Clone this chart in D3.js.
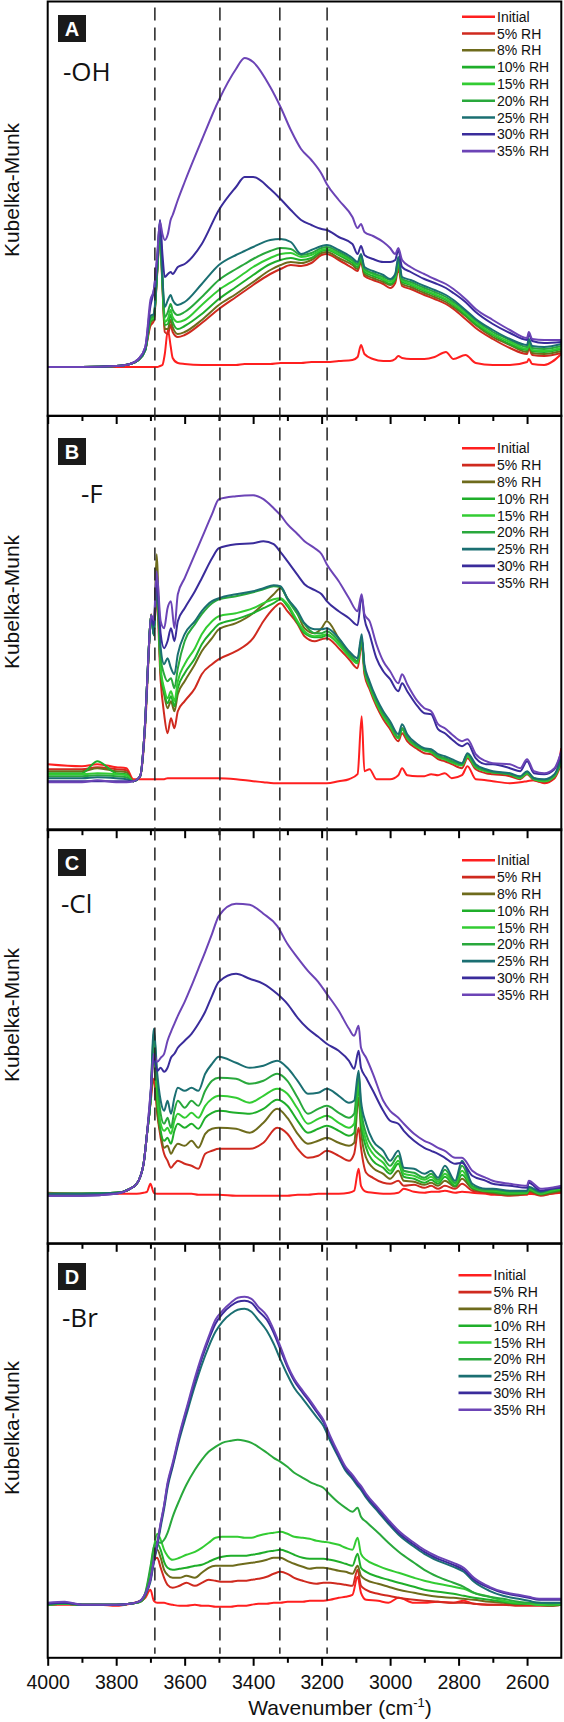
<!DOCTYPE html>
<html><head><meta charset="utf-8">
<script src="https://cdn.jsdelivr.net/npm/d3@7/dist/d3.min.js"></script>
<style>body{margin:0;background:#fff}svg{display:block}</style>
</head><body>
<svg id="chart" width="564" height="1722"></svg>
<script>
// ---------- data ----------
const seriesNames = ["Initial","5% RH","8% RH","10% RH","15% RH","20% RH","25% RH","30% RH","35% RH"];
const seriesColors = ["#ff1f1f","#cf2a1f","#6e6b1c","#1fae2a","#33cc33","#29a83c","#1b6f72","#3a2c9b","#6c44b6"];
const panelLetters = ["A","B","C","D"];
const panelGroups = ["-OH","-F","-Cl","-Br"];
const xMajorTicks = [4000,3800,3600,3400,3200,3000,2800,2600];
const xMinorTicks = [3900,3700,3500,3300,3100,2900,2700];
const dashedWavenumbers = [3687,3497,3322,3184];

// Panel A (-OH): wavenumber grid and Kubelka-Munk values (arbitrary units)
const A_wn = [4000,3900,3800,3760,3735,3715,3700,3690,3680,3672,3665,3658,3649,3641,3635,3620,3600,3550,3500,3450,3425,3400,3350,3320,3290,3260,3230,3200,3185,3150,3110,3095,3085,3075,3050,3020,3000,2985,2976,2965,2940,2900,2870,2837,2815,2780,2750,2700,2650,2600,2595,2585,2550,2500];
const A_init = [49,49,49,49,49,49,49,49,49,50,51,62,86,70,58,53,52,51,51,51,52,52,52,53,53,53,54,54,54,55,56,59,71,62,57,55,55,57,60,58,57,57,59,64,57,61,53,51,51,54,57,52,51,62];
const A_rh5 = [49,49,50,52,56,66,90,95,143,182,130,84,82,91,84,79,81,93,107,119,125,131,142,147,151,150,153,161,162,156,148,145,154,140,136,132,128,133,147,130,127,121,117,112,107,97,88,77,68,62,68,61,60,63];
const A_rh8 = [49,49,50,52,56,66,93,97,145,184,132,87,87,96,89,82,84,96,111,122,128,134,146,151,154,153,156,163,164,158,151,147,156,142,138,134,131,136,151,132,129,123,119,114,109,100,91,79,71,64,70,63,62,65];
const A_rh10 = [49,49,50,52,56,66,95,98,146,186,134,91,92,101,94,87,90,102,117,129,135,141,152,156,158,156,158,165,166,161,153,149,157,144,140,136,132,137,152,134,131,125,121,116,111,101,92,81,72,66,72,65,64,67];
const A_rh15 = [49,49,50,52,56,66,96,99,147,188,136,94,97,106,99,94,96,111,126,137,143,149,158,162,163,159,161,166,167,162,155,151,159,146,142,137,134,139,154,136,132,126,122,117,112,103,94,82,74,67,73,66,65,68];
const A_rh20 = [49,49,50,52,56,66,98,100,148,190,138,99,104,112,106,101,104,119,136,147,152,157,165,168,167,161,163,168,169,164,156,152,161,147,143,139,136,141,156,137,134,128,124,119,114,105,96,84,76,69,75,68,67,70];
const A_rh25 = [49,49,50,52,56,66,100,102,150,195,140,109,116,121,116,111,114,132,151,161,165,169,176,177,174,162,166,170,171,166,158,154,162,149,145,141,137,142,159,139,136,130,126,121,116,106,97,86,77,71,77,70,69,72];
const A_rh30 = [49,49,50,52,57,69,110,126,159,196,162,139,142,144,142,149,152,172,206,229,239,239,227,217,206,196,191,187,186,179,172,162,170,161,157,154,154,156,166,149,144,137,133,128,123,114,104,92,83,76,82,75,73,74];
const A_rh35 = [49,49,50,52,57,69,116,126,162,194,182,176,182,196,201,216,234,276,316,347,358,354,329,309,286,267,256,242,232,216,199,188,192,184,180,174,168,162,168,156,149,142,137,132,127,117,107,96,86,78,84,77,76,76];

// Panel B (-F)
const B_wn = [4000,3900,3855,3800,3770,3750,3730,3715,3705,3698,3690,3682,3670,3660,3650,3640,3630,3620,3600,3570,3550,3520,3500,3450,3400,3370,3340,3320,3300,3270,3250,3220,3200,3185,3150,3120,3095,3083,3075,3060,3040,3020,3000,2976,2965,2950,2920,2900,2880,2860,2840,2820,2790,2774,2750,2720,2700,2650,2620,2600,2580,2550,2520,2500];
const B_init = [66,64,66,63,62,51,51,51,51,51,51,51,51,51,52,52,52,52,52,52,52,52,52,51,49,48,47,47,47,47,47,47,47,47,49,51,56,114,59,61,51,51,51,55,62,55,54,54,56,55,57,52,55,64,51,50,49,47,48,49,50,47,52,82];
const B_rh5 = [61,61,63,61,60,49,54,105,175,216,200,232,149,116,97,112,102,119,129,142,156,166,171,179,192,209,222,227,219,206,194,189,191,192,182,171,162,186,156,141,124,111,101,89,97,89,81,77,76,71,69,66,62,72,61,57,56,54,51,56,50,48,52,67];
const B_rh8 = [59,59,62,59,58,49,54,110,180,215,195,276,156,136,122,129,119,136,149,166,179,192,201,207,217,226,236,242,232,216,202,197,202,209,192,177,169,192,162,146,129,116,106,93,102,93,84,81,79,74,72,69,66,76,64,60,58,56,53,58,52,50,55,71];
const B_rh10 = [57,57,69,57,56,49,54,110,180,215,195,252,159,139,127,134,124,142,157,172,186,199,206,211,217,222,227,231,224,207,197,193,193,195,186,174,167,191,161,144,127,114,104,92,101,92,83,80,78,73,71,68,65,74,63,59,58,56,52,57,51,49,54,69];
const B_rh15 = [56,56,57,56,55,49,54,110,180,215,195,249,162,142,132,139,129,149,166,182,196,209,214,217,222,227,231,232,226,209,199,194,195,196,186,174,167,191,161,144,127,114,104,92,101,92,83,80,78,73,71,68,65,74,63,59,58,56,52,57,51,49,54,69];
const B_rh20 = [54,54,55,54,53,49,54,110,180,215,195,256,172,156,149,152,142,162,189,206,216,227,231,234,238,241,244,243,231,216,206,197,197,199,189,176,169,192,162,146,129,116,106,93,102,93,84,81,79,74,72,69,66,76,64,60,58,56,53,58,52,50,55,71];
const B_rh25 = [52,52,53,52,51,49,54,110,180,215,195,252,182,166,172,162,156,176,196,209,219,229,232,236,239,242,245,244,232,219,207,201,201,202,192,179,172,196,166,149,132,119,109,96,106,96,86,82,81,76,74,71,67,77,66,61,59,57,54,59,52,51,56,72];
const B_rh30 = [49,49,49,49,49,49,54,110,180,213,205,249,196,182,189,202,189,209,222,239,252,272,282,286,287,289,286,278,269,255,246,240,236,229,219,212,205,234,212,196,172,159,151,139,147,139,124,117,116,101,97,91,84,87,72,66,66,62,59,69,57,56,61,77];
const B_rh35 = [48,48,50,48,48,49,54,110,180,215,210,259,209,202,222,229,202,236,252,276,292,316,331,334,335,331,322,315,306,296,289,282,276,266,249,232,219,236,216,209,186,169,159,147,156,146,129,122,119,106,102,96,89,91,76,69,67,66,62,71,59,57,62,79];

// Panel C (-Cl)
const C_wn = [4000,3900,3800,3760,3740,3720,3710,3700,3690,3680,3670,3660,3650,3640,3630,3620,3600,3580,3560,3540,3520,3500,3450,3410,3370,3330,3300,3270,3240,3210,3185,3150,3120,3105,3092,3085,3070,3050,3020,3000,2976,2960,2930,2900,2880,2860,2840,2810,2790,2760,2720,2700,2650,2600,2595,2560,2530,2500];
const C_init = [51,50,50,50,50,51,52,60,51,50,50,50,50,50,50,50,50,50,49,49,49,49,48,48,48,48,48,49,49,50,50,50,51,53,75,58,52,51,50,50,51,55,52,51,52,52,53,51,52,51,50,49,49,49,50,49,50,51];
const C_rh5 = [50,50,51,55,60,80,110,140,165,130,106,90,83,76,80,83,80,78,75,90,93,95,95,95,101,116,110,95,86,88,93,88,83,90,116,96,71,66,61,60,63,58,59,56,58,55,58,55,60,53,51,50,48,50,52,48,50,52];
const C_rh8 = [50,50,51,55,60,80,110,141,190,133,110,96,98,90,96,100,98,103,96,110,115,116,115,111,121,135,126,110,100,103,106,101,98,101,146,113,86,76,70,65,73,63,62,59,61,58,63,57,65,55,52,51,49,50,53,49,51,53];
const C_rh10 = [50,50,51,55,60,80,110,142,200,143,113,103,106,100,113,120,116,120,115,126,131,133,131,130,135,144,138,123,111,115,118,113,108,111,156,123,96,83,76,70,80,67,65,61,64,60,67,58,69,56,53,52,50,51,54,50,52,54];
const C_rh15 = [50,50,51,55,60,80,110,143,205,150,120,113,116,110,123,130,126,131,126,138,145,148,146,141,148,155,150,135,120,125,128,121,116,120,163,130,103,90,81,73,83,70,68,64,67,62,70,60,73,57,53,53,51,51,55,50,53,55];
const C_rh20 = [50,50,51,55,60,80,110,143,212,163,130,120,126,116,133,143,136,143,138,153,163,166,165,160,163,170,163,146,130,135,138,131,126,130,170,136,110,96,86,78,88,73,71,66,70,64,74,61,78,58,54,54,52,52,56,51,54,56];
const C_rh25 = [50,50,51,55,60,80,110,143,215,170,143,133,143,130,146,156,153,156,153,170,180,187,181,176,178,183,176,163,150,151,155,148,141,143,173,143,120,103,93,83,93,76,75,70,73,66,78,63,83,60,55,55,53,53,57,52,55,57];
const C_rh30 = [48,48,50,55,60,80,110,148,186,173,176,172,176,186,190,196,203,210,220,232,248,262,270,265,260,250,240,226,215,207,200,193,183,175,193,176,166,153,133,123,120,113,103,96,93,90,86,80,81,68,63,60,58,56,61,53,55,56];
const C_rh35 = [48,48,50,55,60,80,110,150,190,182,186,190,203,212,220,228,242,258,275,292,310,328,340,339,330,318,300,286,273,262,250,233,215,208,218,196,186,170,143,133,126,120,110,103,100,96,93,86,86,73,66,63,60,58,63,55,56,58];

// Panel D (-Br)
const D_wn = [4000,3950,3900,3850,3800,3760,3730,3715,3700,3690,3680,3670,3660,3650,3635,3615,3595,3570,3550,3530,3510,3490,3465,3445,3425,3405,3385,3360,3340,3320,3300,3280,3255,3235,3215,3195,3175,3150,3130,3110,3095,3085,3070,3035,3005,2975,2930,2900,2860,2815,2785,2755,2710,2670,2625,2595,2565,2530,2500];
const D_init = [53,53,53,53,52,54,57,60,68,57,55,55,55,54,53,52,52,53,52,52,51,51,51,52,52,53,54,54,55,55,56,56,56,57,57,57,58,60,61,63,81,65,58,57,55,60,55,55,56,55,57,54,53,53,53,53,53,53,54];
const D_rh5 = [53,54,53,53,53,54,56,62,80,98,100,90,80,73,70,72,75,72,75,78,77,76,76,77,77,78,79,81,84,86,84,80,77,75,74,75,75,74,73,72,88,72,68,64,62,60,58,57,56,55,55,54,53,53,52,52,52,52,53];
const D_rh8 = [53,54,53,53,53,54,56,62,82,100,108,100,88,83,80,80,82,80,85,90,92,92,92,93,94,95,96,98,100,100,97,94,91,89,90,90,89,87,86,84,92,82,78,74,71,68,65,63,61,60,59,58,56,55,54,54,53,52,53];
const D_rh10 = [53,54,53,53,53,54,56,63,86,105,114,108,96,90,88,89,90,92,93,96,99,101,102,102,102,103,104,106,107,108,106,103,100,99,99,99,98,96,94,92,104,90,86,81,78,75,71,68,66,64,62,60,58,56,54,54,53,53,53];
const D_rh15 = [53,54,53,53,53,54,56,64,88,110,124,118,108,102,98,100,103,106,110,115,120,121,121,121,120,120,122,124,125,126,124,121,120,119,117,116,115,113,110,108,120,104,98,92,88,85,80,77,74,71,69,65,61,57,55,54,53,53,54];
const D_rh20 = [53,54,53,53,53,54,56,65,91,111,116,115,118,125,141,158,173,188,198,206,211,215,217,218,217,215,211,205,200,196,191,185,180,176,173,170,163,155,150,146,150,141,136,125,115,106,95,88,81,75,71,65,61,59,56,55,55,54,55];
const D_rh25 = [54,55,53,53,53,54,57,63,76,95,112,131,149,170,191,219,243,272,293,311,326,336,344,348,349,346,338,327,314,298,283,270,259,250,241,232,217,200,187,179,172,168,160,146,134,123,111,104,97,91,86,76,67,62,59,57,55,55,55];
const D_rh30 = [54,55,53,53,53,54,57,64,78,97,114,134,152,173,193,222,247,277,299,318,334,344,352,356,357,355,347,338,325,308,291,277,265,256,246,236,220,202,189,181,174,170,162,148,136,125,113,106,99,93,88,78,70,65,62,60,58,58,58];
const D_rh35 = [55,56,53,53,53,54,57,64,78,98,115,135,153,175,195,224,249,280,302,321,338,347,355,360,361,359,351,342,328,311,293,279,267,258,248,238,222,204,191,183,176,172,164,150,138,127,115,108,101,95,90,80,71,66,63,61,59,59,59];

// ---------- assemble ----------
const panels = [
  {wn: A_wn, series: [A_init,A_rh5,A_rh8,A_rh10,A_rh15,A_rh20,A_rh25,A_rh30,A_rh35]},
  {wn: B_wn, series: [B_init,B_rh5,B_rh8,B_rh10,B_rh15,B_rh20,B_rh25,B_rh30,B_rh35]},
  {wn: C_wn, series: [C_init,C_rh5,C_rh8,C_rh10,C_rh15,C_rh20,C_rh25,C_rh30,C_rh35]},
  {wn: D_wn, series: [D_init,D_rh5,D_rh8,D_rh10,D_rh15,D_rh20,D_rh25,D_rh30,D_rh35]}
];

// ---------- layout ----------
const plotLeft = 47.7, plotRight = 561.3;
const panelTops = [1.5, 415.7, 829.3, 1243.3];
const panelH = 414.5;
const plotBottom = panelTops[3] + panelH;
const legendTop = [16.7, 448.3, 860.3, 1275.3];
const legendX = [462, 462, 462, 458.5];
const legendStep = 16.8;
const boxTop = [15, 438, 849, 1263];
const groupPos = [[63,81],[81,503],[61,913],[62,1327]];
const ylabelCenter = [190, 602, 1015, 1428];

const svg = d3.select("#chart");
const x = d3.scaleLinear().domain([4000, 2500]).range([plotLeft, plotRight]);
const font = "'Liberation Sans', Arial, Helvetica, sans-serif";

panels.forEach((p, pi) => {
  const top = panelTops[pi];
  const y = d3.scaleLinear().domain([0, 414.5]).range([top + panelH, top]);
  const g = svg.append("g");
  const clipId = "clip" + pi;
  svg.append("clipPath").attr("id", clipId).append("rect")
    .attr("x", plotLeft).attr("y", top).attr("width", plotRight - plotLeft).attr("height", panelH);

  const line = d3.line()
    .x((d, i) => x(p.wn[i]))
    .y(d => y(d))
    .curve(d3.curveMonotoneX);

  const lines = g.append("g").attr("clip-path", `url(#${clipId})`);
  p.series.forEach((s, si) => {
    if (s.length !== p.wn.length) console.warn("length mismatch", pi, si, s.length, p.wn.length);
    lines.append("path").datum(s)
      .attr("d", line)
      .attr("fill", "none")
      .attr("stroke", seriesColors[si])
      .attr("stroke-width", 2)
      .attr("stroke-linejoin", "round");
  });

  // legend
  const lg = g.append("g");
  seriesNames.forEach((name, si) => {
    const yy = legendTop[pi] + si * legendStep;
    lg.append("line").attr("x1", legendX[pi]).attr("x2", legendX[pi] + 33)
      .attr("y1", yy).attr("y2", yy)
      .attr("stroke", seriesColors[si]).attr("stroke-width", 2.6);
    lg.append("text").attr("x", legendX[pi] + 35).attr("y", yy).attr("dy", "0.36em")
      .attr("font-family", font).attr("font-size", 14).attr("fill", "#111")
      .text(name);
  });

  // panel letter box
  g.append("rect").attr("x", 58).attr("y", boxTop[pi]).attr("width", 28).attr("height", 27)
    .attr("fill", "#1a1a1a");
  g.append("text").attr("x", 72).attr("y", boxTop[pi] + 13.5).attr("dy", "0.36em")
    .attr("text-anchor", "middle").attr("font-family", font).attr("font-weight", "bold")
    .attr("font-size", 20).attr("fill", "#fff").text(panelLetters[pi]);

  // substituent label
  g.append("text").attr("x", groupPos[pi][0]).attr("y", groupPos[pi][1])
    .attr("font-family", "'Open Sans', 'Liberation Sans', sans-serif").attr("font-size", 26)
    .attr("fill", "#111").text(panelGroups[pi]);

  // y label
  g.append("text")
    .attr("transform", `translate(18.5,${ylabelCenter[pi]}) rotate(-90)`)
    .attr("text-anchor", "middle").attr("font-family", font).attr("font-size", 21)
    .attr("fill", "#111").text("Kubelka-Munk");

  // bottom axis ticks (outward)
  const bottom = top + panelH;
  const major = d3.axisBottom(x).tickValues(xMajorTicks).tickSize(8).tickSizeOuter(0).tickPadding(9)
    .tickFormat(pi === 3 ? d3.format("d") : () => "");
  const minor = d3.axisBottom(x).tickValues(xMinorTicks).tickSize(5).tickSizeOuter(0).tickFormat(() => "");
  [major, minor].forEach(ax => {
    const ag = g.append("g").attr("transform", `translate(0,${bottom})`).call(ax);
    ag.select(".domain").remove();
    ag.selectAll("line").attr("stroke", "#000").attr("stroke-width", 2);
    ag.selectAll("text").attr("font-family", font).attr("font-size", 19.5).attr("fill", "#111");
  });

  // frame
  g.append("rect").attr("x", plotLeft).attr("y", top).attr("width", plotRight - plotLeft).attr("height", panelH)
    .attr("fill", "none").attr("stroke", "#000").attr("stroke-width", 2);
});

// dashed reference lines across all panels
svg.append("g").selectAll("line").data(dashedWavenumbers).join("line")
  .attr("x1", d => x(d)).attr("x2", d => x(d))
  .attr("y1", panelTops[0] + 6).attr("y2", plotBottom - 4)
  .attr("stroke", "#222").attr("stroke-width", 1.5).attr("stroke-dasharray", "13,7");

// x axis title
const xt = svg.append("text").attr("x", 340).attr("y", 1715).attr("text-anchor", "middle")
  .attr("font-family", font).attr("font-size", 21).attr("fill", "#111");
xt.append("tspan").text("Wavenumber (cm");
xt.append("tspan").attr("font-size", 13).attr("dy", -8).text("-1");
xt.append("tspan").attr("dy", 8).text(")");
</script>
</body></html>
